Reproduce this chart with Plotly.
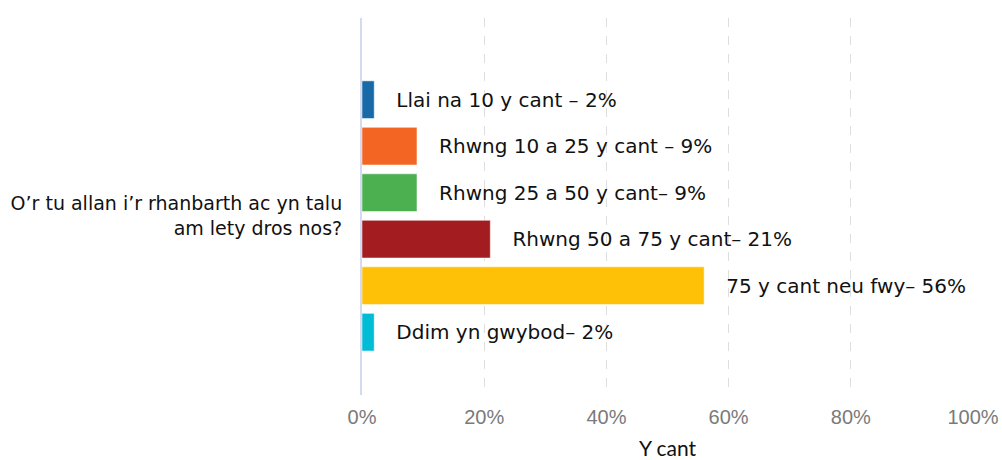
import plotly.graph_objects as go

# Data
category = ["O’r tu allan i’r rhanbarth ac yn talu<br>am lety dros nos?"]
labels = [
    "Llai na 10 y cant – 2%",
    "Rhwng 10 a 25 y cant – 9%",
    "Rhwng 25 a 50 y cant– 9%",
    "Rhwng 50 a 75 y cant– 21%",
    "75 y cant neu fwy– 56%",
    "Ddim yn gwybod– 2%",
]
values = [0.02, 0.09, 0.09, 0.21, 0.56, 0.02]
colors = ["#1769a8", "#f26522", "#4caf50", "#a21c20", "#ffc107", "#00bcd4"]

fig = go.Figure()

for lab, val, col in zip(labels, values, colors):
    fig.add_trace(go.Bar(
        y=category, x=[val],
        orientation="h",
        name=lab,
        text=[lab],
        texttemplate="   %{text}",
        textposition="outside",
        constraintext="none",
        cliponaxis=False,
        textfont=dict(family="DejaVu Sans", size=20, color="#111111"),
        marker=dict(color=col, line=dict(color="rgba(255,255,255,0.5)", width=1)),
        hoverinfo="skip",
    ))

fig.update_layout(
    barmode="group",
    bargap=0.26,
    bargroupgap=0.19,
    showlegend=False,
    width=1002, height=460,
    margin=dict(l=362, r=29, t=18, b=65, autoexpand=False),
    plot_bgcolor="white",
    paper_bgcolor="white",
    xaxis=dict(
        range=[0, 1],
        tickvals=[0, 0.2, 0.4, 0.6, 0.8, 1.0],
        tickformat=".0%",
        tickfont=dict(family="Liberation Sans", size=20, color="#7a7a7a"),
        showgrid=True, gridcolor="#dedede", griddash="dash", gridwidth=1,
        zeroline=False, showline=False,
        ticks="", ticklen=0,
        ticklabelstandoff=8,
        automargin=False,
        title=dict(text="Y cant", font=dict(family="Lato", size=21, color="#111111"), standoff=14),
    ),
    yaxis=dict(
        range=[0.475, -0.525],
        showgrid=False,
        showline=True, linecolor="#d5daf0", linewidth=2,
        tickfont=dict(family="DejaVu Sans", size=19, color="#111111"),
        ticks="", ticklabelstandoff=14,
        automargin=False,
    ),
)

# remove the default page margin so the figure sits at the window's corner
fig.write_html("out.html", config={"displayModeBar": False},
               post_script="document.body.style.margin='0';")
